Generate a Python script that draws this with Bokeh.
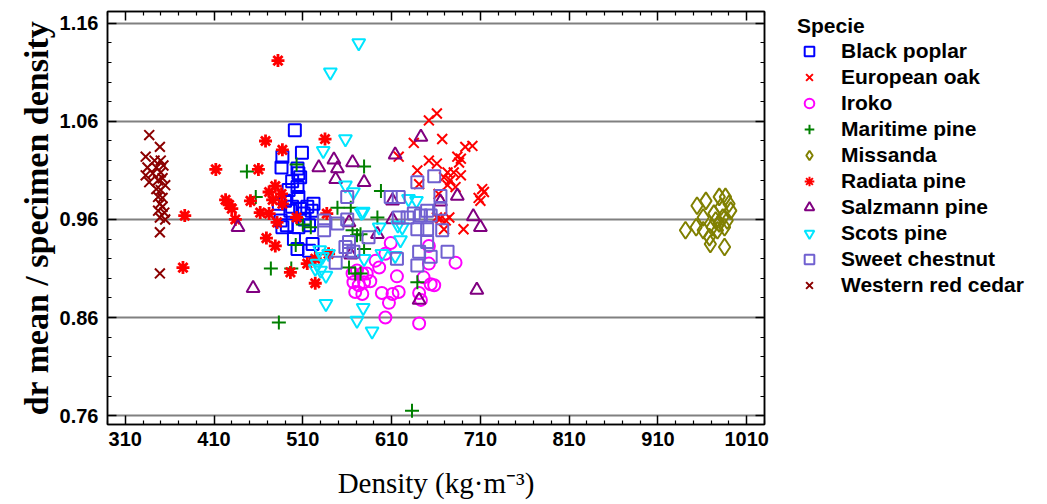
from bokeh.plotting import figure
from bokeh.layouts import row
from bokeh.models import (Legend, LegendItem, LinearAxis, FixedTicker,
                          PrintfTickFormatter)
from bokeh.embed import file_html
from bokeh.resources import INLINE

# ---------------- data ----------------
species = ["Black poplar", "European oak", "Iroko", "Maritime pine", "Missanda",
           "Radiata pine", "Salzmann pine", "Scots pine", "Sweet chestnut",
           "Western red cedar"]

black_poplar_x = [501, 509, 487, 486, 504, 507, 505, 498, 494, 504, 505, 483, 490, 498, 507,
                  515, 522, 520, 511, 485, 492, 487, 505, 517, 500, 504, 517, 521, 496, 512]
black_poplar_y = [1.051, 1.028, 1.024, 1.013, 1.012, 1.003, 1.007, 0.999, 0.990, 0.993, 0.983,
                  0.976, 0.979, 0.973, 0.971, 0.973, 0.976, 0.969, 0.966, 0.959, 0.954, 0.952,
                  0.952, 0.954, 0.940, 0.930, 0.928, 0.935, 0.969, 0.960]

european_oak_x = [661, 652, 667, 635, 618, 652, 661, 684, 686, 693, 701, 639, 673, 680, 669, 676,
                  673, 682, 641, 663, 665, 671, 675, 661, 669, 691, 688, 688, 712, 714, 710, 708]
european_oak_y = [1.068, 1.061, 1.042, 1.038, 1.024, 1.020, 1.017, 1.024, 1.018, 1.034, 1.035,
                  1.010, 1.008, 1.008, 1.003, 1.000, 0.995, 0.993, 0.996, 0.986, 0.961, 0.959,
                  0.962, 0.962, 0.950, 0.950, 1.022, 1.005, 0.991, 0.988, 0.979, 0.982]

iroko_x = [609, 603, 596, 582, 586, 616, 599, 611, 618, 607, 603, 641, 641, 654, 658, 652, 652,
           682, 646, 566, 571, 577, 567, 573, 579, 569, 577, 592, 643]
iroko_y = [0.936, 0.925, 0.911, 0.905, 0.897, 0.902, 0.885, 0.884, 0.886, 0.875, 0.860, 0.854,
           0.885, 0.894, 0.893, 0.915, 0.933, 0.916, 0.901, 0.905, 0.908, 0.905, 0.896, 0.893,
           0.896, 0.886, 0.884, 0.918, 0.878]

maritime_pine_x = [447, 457, 503, 474, 497, 483, 502, 519, 549, 564, 579, 562, 569, 566, 571,
                   579, 598, 594, 575, 575, 639, 633, 510]
maritime_pine_y = [1.009, 0.983, 1.016, 0.910, 0.910, 0.855, 0.934, 0.952, 0.972, 0.972, 1.014,
                   0.911, 0.905, 0.949, 0.944, 0.930, 0.989, 0.962, 0.945, 0.905, 0.896, 0.765,
                   0.955]

missanda_x = [979, 986, 992, 981, 973, 983, 988, 979, 971, 985, 961, 953, 961, 941, 969, 985,
              964, 954, 968, 975, 990, 977]
missanda_y = [0.983, 0.983, 0.969, 0.973, 0.966, 0.962, 0.959, 0.956, 0.952, 0.952, 0.962,
              0.952, 0.949, 0.949, 0.935, 0.932, 0.979, 0.974, 0.942, 0.959, 0.976, 0.949]

radiata_pine_x = [482, 468, 487, 535, 412, 460, 479, 472, 486, 423, 427, 430, 451, 434, 462,
                  472, 481, 487, 503, 537, 377, 469, 479, 496, 515, 524, 539, 524, 375, 476]
radiata_pine_y = [1.122, 1.040, 1.031, 1.042, 1.011, 1.011, 0.994, 0.988, 0.986, 0.980, 0.975,
                  0.971, 0.979, 0.960, 0.967, 0.966, 0.957, 0.976, 0.962, 0.966, 0.964, 0.941,
                  0.933, 0.906, 0.915, 0.895, 0.925, 0.920, 0.911, 0.980]

salzmann_pine_x = [437, 454, 528, 545, 549, 547, 566, 579, 564, 643, 614, 611, 684, 611, 641,
                   702, 710, 706, 665, 562, 594]
salzmann_pine_y = [0.952, 0.890, 1.013, 1.021, 1.012, 1.001, 1.018, 0.998, 0.924, 1.044, 1.026,
                   0.979, 0.984, 0.960, 0.878, 0.963, 0.952, 0.888, 0.978, 0.957, 0.945]

scots_pine_x = [573, 541, 558, 533, 558, 567, 578, 529, 539, 532, 526, 530, 536, 524, 536, 571,
                578, 588, 579, 629, 638, 596, 617, 622, 620, 599, 614, 576]
scots_pine_y = [1.140, 1.110, 1.042, 1.030, 0.995, 0.988, 0.968, 0.929, 0.925, 0.922, 0.915,
                0.908, 0.903, 0.910, 0.874, 0.857, 0.870, 0.846, 0.920, 0.981, 0.979, 0.952,
                0.954, 0.952, 0.939, 0.925, 0.923, 0.967]

sweet_chestnut_x = [658, 639, 665, 609, 618, 635, 643, 650, 654, 665, 618, 639, 650, 667, 650,
                    641, 654, 673, 639, 584, 616, 534, 547, 562, 567, 560, 558, 562, 534, 549,
                    560, 628]
sweet_chestnut_y = [1.004, 0.998, 0.984, 0.983, 0.983, 0.966, 0.964, 0.969, 0.964, 0.971, 0.962,
                    0.950, 0.950, 0.949, 0.937, 0.927, 0.922, 0.927, 0.913, 0.942, 0.920, 0.949,
                    0.916, 0.928, 0.927, 0.983, 0.932, 0.937, 0.959, 0.956, 0.960, 0.962]

western_red_cedar_x = [337, 349, 333, 343, 350, 335, 345, 353, 333, 341, 350, 337, 347, 352, 355,
                       345, 350, 347, 352, 349, 352, 347, 354, 349, 355, 349, 349]
western_red_cedar_y = [1.046, 1.034, 1.024, 1.020, 1.020, 1.013, 1.013, 1.015, 1.005, 1.007,
                       1.008, 0.998, 1.000, 1.002, 0.995, 0.991, 0.990, 0.983, 0.982, 0.976,
                       0.973, 0.969, 0.967, 0.962, 0.960, 0.947, 0.905]

x_ticks = [310, 410, 510, 610, 710, 810, 910, 1010]
y_ticks = [0.76, 0.86, 0.96, 1.06, 1.16]

# ---------------- main figure ----------------
p = figure(width=790, height=504,
           x_range=(290, 1030), y_range=(0.751, 1.172),
           output_backend="svg", toolbar_location=None,
           min_border_left=107, min_border_right=26, min_border_top=11,
           min_border_bottom=80, background_fill_color="white",
           border_fill_color="white")

p.outline_line_color = "black"
p.outline_line_width = 1.5

x_minor = [v for v in range(290, 1031, 20) if v not in x_ticks]
y_minor = [round(0.76 + 0.02 * i, 2) for i in range(0, 21)]
y_minor = [v for v in y_minor if v not in y_ticks]

xt = FixedTicker(ticks=x_ticks, minor_ticks=x_minor)
yt = FixedTicker(ticks=y_ticks, minor_ticks=y_minor)

tick_font = "Liberation Sans"

ax = p.xaxis[0]
ax.ticker = xt
ax.formatter = PrintfTickFormatter(format="%d")
ay = p.yaxis[0]
ay.ticker = yt
ay.formatter = PrintfTickFormatter(format="%.2f")

for a in (ax, ay):
    a.major_tick_in = 9
    a.major_tick_out = 0
    a.minor_tick_in = 4
    a.minor_tick_out = 0
    a.axis_line_color = "black"
    a.axis_line_width = 1.5
    a.major_tick_line_color = "black"
    a.major_tick_line_width = 1.5
    a.minor_tick_line_color = "black"
    a.minor_tick_line_width = 1.2
    a.major_label_text_font = tick_font
    a.major_label_text_font_style = "bold"
    a.major_label_text_font_size = "20px"
    a.major_label_text_color = "black"
    a.axis_label_text_font = "Liberation Serif"
    a.axis_label_text_color = "black"

ax.major_label_standoff = 7
ay.major_label_standoff = 9
ax.axis_label = "Density (kg·m⁻³)"
ax.axis_label_text_font_style = "normal"
ax.axis_label_text_font_size = "29px"
ax.axis_label_standoff = 18
ay.axis_label = "dr mean / specimen density"
ay.axis_label_text_font_style = "bold"
ay.axis_label_text_font_size = "34px"
ay.axis_label_standoff = 2

for loc, tk, lab in (("above", xt, x_ticks), ("right", yt, y_ticks)):
    a2 = LinearAxis(ticker=tk)
    a2.major_label_overrides = {v: "" for v in lab}
    a2.major_tick_in = 9
    a2.major_tick_out = 0
    a2.minor_tick_in = 4
    a2.minor_tick_out = 0
    a2.major_label_standoff = 0
    a2.axis_line_color = "black"
    a2.axis_line_width = 1.5
    a2.major_tick_line_width = 1.5
    a2.minor_tick_line_width = 1.2
    p.add_layout(a2, loc)

p.xgrid.grid_line_color = None
p.ygrid.ticker = yt
p.ygrid.grid_line_color = "#808080"
p.ygrid.grid_line_width = 2

# ---------------- markers ----------------
styles = [
    dict(marker="square", size=12, line_color="#0000ff", fill_color=None, line_width=2),
    dict(marker="x", size=14, line_color="#ff0000", line_width=2),
    dict(marker="circle", size=12, line_color="#ff00ff", fill_color=None, line_width=2),
    dict(marker="cross", size=14, line_color="#008000", line_width=2),
    dict(marker="diamond", size=17, line_color="#808000", fill_color=None, line_width=2),
    dict(marker="asterisk", size=13, line_color="#ff0000", line_width=2.8),
    dict(marker="triangle", size=13, line_color="#800080", fill_color=None, line_width=2),
    dict(marker="inverted_triangle", size=13, line_color="#00e5ff", fill_color=None, line_width=2),
    dict(marker="square", size=12, line_color="#7060d0", fill_color=None, line_width=2),
    dict(marker="x", size=14, line_color="#8b0000", line_width=2),
]
series = [
    (black_poplar_x, black_poplar_y),
    (european_oak_x, european_oak_y),
    (iroko_x, iroko_y),
    (maritime_pine_x, maritime_pine_y),
    (missanda_x, missanda_y),
    (radiata_pine_x, radiata_pine_y),
    (salzmann_pine_x, salzmann_pine_y),
    (scots_pine_x, scots_pine_y),
    (sweet_chestnut_x, sweet_chestnut_y),
    (western_red_cedar_x, western_red_cedar_y),
]
for (xs, ys), st in zip(series, styles):
    p.scatter(xs, ys, **st)

# ---------------- legend panel ----------------
# the legend lives in a narrow companion figure; its renderers hold the same
# series, which lie outside this figure's (0, 1) ranges so only the legend shows
q = figure(width=257, height=504, x_range=(0, 1), y_range=(0, 1),
           output_backend="svg", toolbar_location=None,
           min_border_left=4, min_border_right=0, min_border_top=9,
           min_border_bottom=0, outline_line_color=None,
           background_fill_color="white", border_fill_color="white")
q.axis.visible = False
q.grid.visible = False

leg_renderers = []
for (xs, ys), st in zip(series, styles):
    legend_style = dict(st)
    if st["marker"] == "asterisk":
        legend_style["line_width"] = 2
    leg_renderers.append(q.scatter(xs, ys, **legend_style))

items = [LegendItem(label=s, renderers=[r], index=0) for s, r in zip(species, leg_renderers)]
legend = Legend(items=items, location="top_left", title="Specie",
                title_text_font="Liberation Sans", title_text_font_style="bold",
                title_text_font_size="21px", title_text_color="black",
                label_text_font="Liberation Sans", label_text_color="black",
                label_text_font_style="bold", label_text_font_size="21px",
                glyph_width=24, glyph_height=24, label_height=20, label_standoff=20,
                spacing=2, padding=0, margin=3, border_line_color=None,
                background_fill_alpha=0, title_standoff=1)
q.add_layout(legend)

layout = row(p, q, spacing=0)
open("out.html", "w").write(file_html(layout, INLINE))
